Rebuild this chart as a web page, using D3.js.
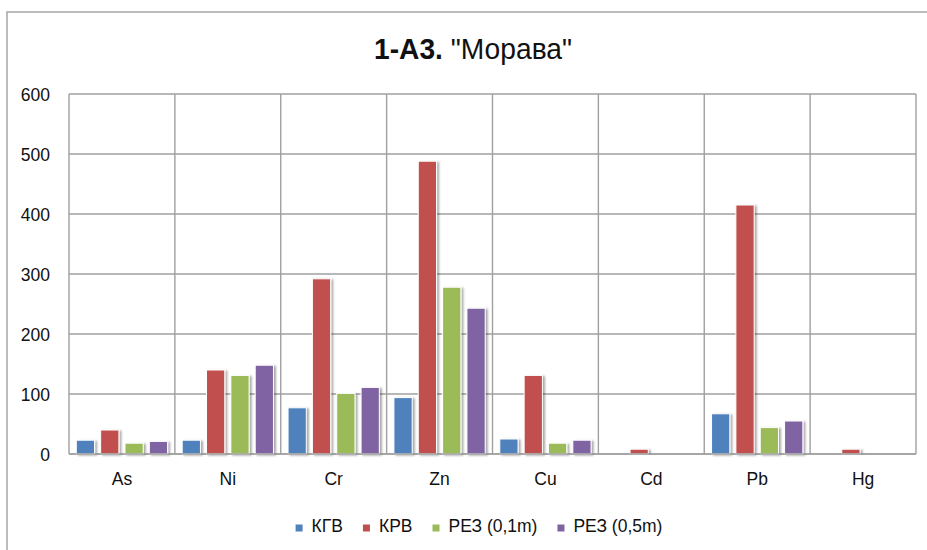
<!DOCTYPE html>
<html>
<head>
<meta charset="utf-8">
<script src="https://cdn.jsdelivr.net/npm/d3@7/dist/d3.min.js"></script>
<style>
  html, body { margin: 0; padding: 0; background: #fff; }
  svg text { font-family: "Liberation Sans", Arial, sans-serif; fill: #111; }
</style>
</head>
<body>
<svg id="chart" width="927" height="550"></svg>
<script>
const categories = ["As", "Ni", "Cr", "Zn", "Cu", "Cd", "Pb", "Hg"];
const seriesNames = ["КГВ", "КРВ", "РЕЗ (0,1m)", "РЕЗ (0,5m)"];
const kgv   = [23, 23, 77, 94, 25, 0, 67, 0];
const krv   = [40, 140, 292, 488, 131, 8, 415, 8];
const rez01 = [18, 131, 101, 278, 18, 0, 44, 0];
const rez05 = [21, 148, 111, 243, 23, 0, 55, 0];
const yTicks = [0, 100, 200, 300, 400, 500, 600];
const colors = ["#4F81BD", "#C0504D", "#9BBB59", "#8064A2"];
const seriesValues = [kgv, krv, rez01, rez05];

const svg = d3.select("#chart");
const W = 927, H = 550;
const plot = { left: 69, right: 916, top: 94, bottom: 454 };

// defs: drop shadow
const defs = svg.append("defs");
const f = defs.append("filter").attr("id", "shadow")
  .attr("x", "-30%").attr("y", "-10%").attr("width", "160%").attr("height", "130%");
f.append("feDropShadow").attr("dx", 2).attr("dy", 1).attr("stdDeviation", 1.3)
  .attr("flood-color", "#000").attr("flood-opacity", 0.35);

// outer border
svg.append("rect").attr("x", 7).attr("y", 12).attr("width", W + 20).attr("height", H + 20)
  .attr("fill", "none").attr("stroke", "#a6a6a6").attr("stroke-width", 1.5);

// title (slightly condensed)
const title = svg.append("text")
  .attr("transform", "translate(473,58.5) scale(0.94,1)")
  .attr("text-anchor", "middle").style("font-size", "30px");
title.append("tspan").style("font-weight", "bold").text("1-A3.");
title.append("tspan").text(" \"Морава\"");

const x0 = d3.scaleBand().domain(categories).range([plot.left, plot.right]).padding(0);
const x1 = d3.scaleBand().domain(d3.range(seriesNames.length))
  .range([0, x0.bandwidth()]).paddingInner(0.25).paddingOuter(0.3);
const y = d3.scaleLinear().domain([0, 600]).range([plot.bottom, plot.top]);

// horizontal gridlines
const gridColor = "#a0a0a0";
svg.append("g").selectAll("line").data(yTicks).join("line")
  .attr("x1", plot.left).attr("x2", plot.right)
  .attr("y1", d => y(d)).attr("y2", d => y(d))
  .attr("stroke", gridColor).attr("stroke-width", 1.4);

// vertical gridlines
const vlines = categories.map(c => x0(c)).concat([plot.right]);
svg.append("g").selectAll("line").data(vlines).join("line")
  .attr("x1", d => d).attr("x2", d => d)
  .attr("y1", plot.top).attr("y2", plot.bottom)
  .attr("stroke", gridColor).attr("stroke-width", 1.4);

// y axis labels
const yAxis = d3.axisLeft(y).tickValues(yTicks).tickSize(0).tickPadding(0);
const gy = svg.append("g").attr("transform", `translate(50,0)`).call(yAxis);
gy.select(".domain").remove();
gy.selectAll("text").style("font-size", "17.5px")
  .attr("font-family", null).attr("fill", "#111").attr("dy", "0.36em");

// x axis labels
const xAxis = d3.axisBottom(x0).tickSize(0).tickPadding(0);
const gx = svg.append("g").attr("transform", `translate(0,${plot.bottom + 18})`).call(xAxis);
gx.select(".domain").remove();
gx.selectAll("text").style("font-size", "17.5px").attr("fill", "#111").attr("dy", "0.76em");

// bars
const rows = categories.map((c, i) => ({ c, vals: seriesValues.map(s => s[i]) }));
const groups = svg.append("g").selectAll("g").data(rows).join("g")
  .attr("transform", d => `translate(${x0(d.c)},0)`);
groups.selectAll("rect").data(d => d.vals.map((v, k) => ({ v, k }))).join("rect")
  .attr("x", d => x1(d.k))
  .attr("width", x1.bandwidth())
  .attr("y", d => y(d.v))
  .attr("height", d => y(0) - y(d.v))
  .attr("fill", d => colors[d.k])
  .attr("stroke", "#fff").attr("stroke-width", 1)
  .attr("filter", "url(#shadow)");
groups.selectAll("rect").filter(d => d.v === 0).remove();

// baseline (axis) line
svg.append("line").attr("x1", plot.left).attr("x2", plot.right)
  .attr("y1", y(0)).attr("y2", y(0)).attr("stroke", gridColor).attr("stroke-width", 1.6);

// legend
const legend = svg.append("g");
const items = legend.selectAll("g").data(seriesNames).join("g");
items.append("rect").attr("width", 7).attr("height", 7).attr("y", -7.5)
  .attr("fill", (d, i) => colors[i]);
items.append("text").attr("x", 16).attr("y", 0).style("font-size", "17.5px").text(d => d);
let xpos = 0;
const gap = 20;
items.each(function(d, i) {
  const w = 16 + this.querySelector("text").getComputedTextLength();
  d3.select(this).attr("transform", `translate(${xpos},0)`);
  xpos += w + gap;
});
const total = xpos - gap;
legend.attr("transform", `translate(${479 - total / 2},${532})`);
</script>
</body>
</html>
